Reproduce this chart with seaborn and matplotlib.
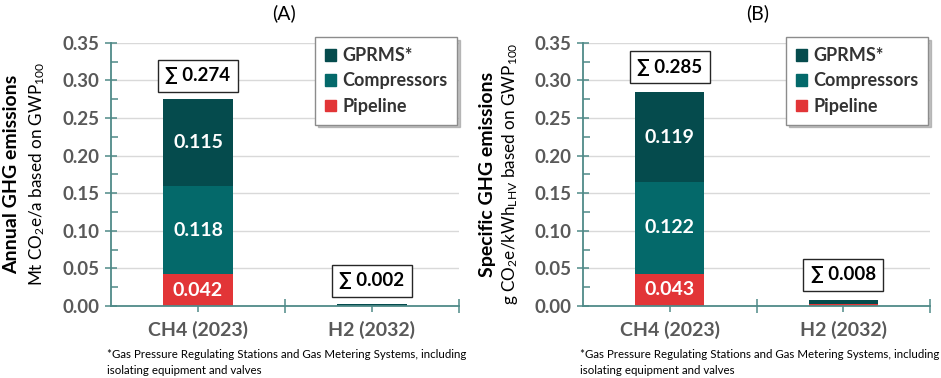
import matplotlib
matplotlib.use("Agg")
import matplotlib.pyplot as plt
import seaborn as sns
import pandas as pd
import numpy as np
from matplotlib.ticker import MultipleLocator, FixedLocator
from matplotlib.patches import Patch

categories = ["CH4 (2023)", "H2 (2032)"]
series_names = ["GPRMS*", "Compressors", "Pipeline"]

a_pipeline = [0.042, 0.0005]
a_compressors = [0.118, 0.0]
a_gprms = [0.115, 0.0015]
a_totals = ["0.274", "0.002"]
a_seg_labels = {"Pipeline": ["0.042", ""], "Compressors": ["0.118", ""], "GPRMS*": ["0.115", ""]}

b_pipeline = [0.043, 0.002]
b_compressors = [0.122, 0.0005]
b_gprms = [0.119, 0.0055]
b_totals = ["0.285", "0.008"]
b_seg_labels = {"Pipeline": ["0.043", ""], "Compressors": ["0.122", ""], "GPRMS*": ["0.119", ""]}

colors = {"GPRMS*": "#054b4d", "Compressors": "#04696a", "Pipeline": "#e23537"}

sns.set_theme(style="white")
plt.rcParams["font.family"] = ["Lato", "DejaVu Sans"]
plt.rcParams["mathtext.fontset"] = "custom"
plt.rcParams["mathtext.rm"] = "Lato"
plt.rcParams["mathtext.it"] = "Lato:italic"
plt.rcParams["mathtext.bf"] = "Lato:bold"

W, H = 941, 378
fig = plt.figure(figsize=(W / 100, H / 100), dpi=100)

axis_col = "#4f8a88"
tick_col = "#595959"


def px_ax(l, r, t, b):
    return [l / W, 1 - b / H, (r - l) / W, (b - t) / H]


def draw_panel(ax, pipeline, compressors, gprms, totals, seg_labels, title, ylab1, ylab2,
               ylab_x1, ylab_x2, foot_x, title_x, box_offsets):
    df = pd.DataFrame({"cat": categories, "Pipeline": pipeline,
                       "Compressors": compressors, "GPRMS*": gprms})
    df["cum_pipe"] = df["Pipeline"]
    df["cum_comp"] = df["Pipeline"] + df["Compressors"]
    df["cum_gprms"] = df["cum_comp"] + df["GPRMS*"]
    ax.set_ylim(0, 0.35)
    ax.set_xlim(-0.5, 1.5)
    for yv in np.arange(0.05, 0.351, 0.05):
        ax.axhline(yv, color="#d9d9d9", lw=1.0, zorder=0)
    for col, name in [("cum_gprms", "GPRMS*"), ("cum_comp", "Compressors"), ("cum_pipe", "Pipeline")]:
        sns.barplot(data=df, x="cat", y=col, color=colors[name], width=0.4,
                    saturation=1, ax=ax, zorder=2, linewidth=0)
    for i in range(len(categories)):
        bottoms = [0, df["cum_pipe"][i], df["cum_comp"][i]]
        vals = [df["Pipeline"][i], df["Compressors"][i], df["GPRMS*"][i]]
        for name, b0, v in zip(["Pipeline", "Compressors", "GPRMS*"], bottoms, vals):
            lab = seg_labels[name][i]
            if lab:
                ax.text(i, b0 + v / 2, lab, ha="center", va="center", color="white",
                        fontsize=14, fontweight="bold", zorder=3)
        ax.annotate("\u2211 " + totals[i], xy=(i, df["cum_gprms"][i]), xytext=(0, box_offsets[i]),
                    textcoords="offset points", ha="center", va="center",
                    fontsize=13.5, fontweight="bold", color="black",
                    bbox=dict(boxstyle="square,pad=0.4", fc="white", ec="#262626", lw=1.0),
                    zorder=4)
    for s in ["top", "right"]:
        ax.spines[s].set_visible(False)
    for s in ["left", "bottom"]:
        ax.spines[s].set_color(axis_col)
        ax.spines[s].set_linewidth(1.3)
    ax.set_xlabel("")
    ax.set_ylabel("")
    ax.yaxis.set_minor_locator(MultipleLocator(0.025))
    ax.set_yticks(np.arange(0, 0.351, 0.05))
    ax.set_yticklabels([f"{v:.2f}" for v in np.arange(0, 0.351, 0.05)])
    ax.tick_params(axis="y", which="major", direction="inout", length=9, width=1.1,
                   color=axis_col, labelsize=13.5, labelcolor=tick_col, pad=4, left=True)
    ax.tick_params(axis="y", which="minor", direction="in", length=5, width=1.1,
                   color=axis_col, left=True)
    ax.set_xticks(range(len(categories)))
    ax.set_xticklabels(categories)
    ax.xaxis.set_minor_locator(FixedLocator([0.5, 1.5]))
    ax.tick_params(axis="x", which="major", direction="out", length=4, width=1.1,
                   color=axis_col, labelsize=14, labelcolor=tick_col, pad=7, bottom=True)
    ax.tick_params(axis="x", which="minor", direction="inout", length=10, width=1.1,
                   color=axis_col, bottom=True)
    for t in ax.get_yticklabels() + ax.get_xticklabels():
        t.set_fontweight("bold")
    handles = [Patch(color=colors[n], label=n) for n in series_names]
    leg = ax.legend(handles=handles, loc="upper right", bbox_to_anchor=(0.995, 1.02),
                    frameon=True, fancybox=False, shadow={"color": "#999999", "alpha": 0.6},
                    edgecolor="#8c8c8c",
                    prop={"weight": "bold", "size": 13}, handlelength=0.6,
                    handleheight=0.6, handletextpad=0.35, labelspacing=0.45,
                    borderpad=0.55, borderaxespad=0)
    for t in leg.get_texts():
        t.set_color("#333333")
    leg.get_frame().set_linewidth(1.0)
    fig.text(title_x / W, 1 - 13 / H, title, ha="center", va="center", fontsize=14, color="black")
    fig.text(ylab_x1 / W, 1 - 174 / H, ylab1, ha="center", va="center", rotation=90,
             fontsize=14, fontweight="bold", color="black")
    fig.text(ylab_x2 / W, 1 - 174 / H, ylab2, ha="center", va="center", rotation=90,
             fontsize=12.3, color="black")
    fig.text(foot_x / W, 1 - 355 / H, "*Gas Pressure Regulating Stations and Gas Metering Systems, including",
             ha="left", va="center", fontsize=8.3, color="black")
    fig.text(foot_x / W, 1 - 370 / H, "isolating equipment and valves",
             ha="left", va="center", fontsize=8.3, color="black")


axA = fig.add_axes(px_ax(111, 459, 42.7, 306))
draw_panel(axA, a_pipeline, a_compressors, a_gprms, a_totals, a_seg_labels, "(A)",
           "Annual GHG emissions", r"Mt CO$_2$e/a based on GWP$_{100}$",
           12, 37, 107, 284, [17, 17])

axB = fig.add_axes(px_ax(583, 930, 42.7, 306))
draw_panel(axB, b_pipeline, b_compressors, b_gprms, b_totals, b_seg_labels, "(B)",
           "Specific GHG emissions", r"g CO$_2$e/kWh$_{\mathrm{LHV}}$ based on GWP$_{100}$",
           487, 510, 580, 758, [18, 18])

fig.savefig("out.png", dpi=100, facecolor="white")
